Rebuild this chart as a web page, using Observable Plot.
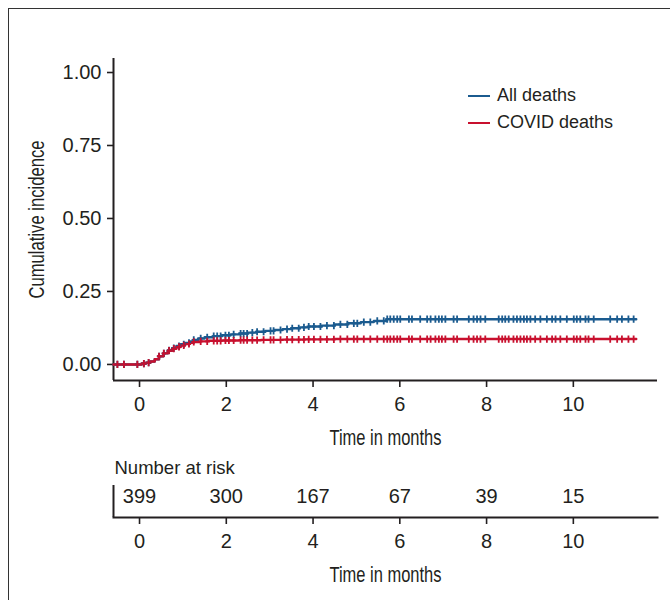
<!DOCTYPE html>
<html>
<head>
<meta charset="utf-8">
<script src="https://cdn.jsdelivr.net/npm/d3@7"></script>
<script src="https://cdn.jsdelivr.net/npm/@observablehq/plot@0.6"></script>
<style>
  body { margin: 0; background: #fff; font-family: "Liberation Sans", Arial, sans-serif; color: #231f20; }
  #frame { position: absolute; left: 8px; top: 8px; width: 720px; height: 720px; border-top: 1.5px solid #333; border-left: 1.5px solid #333; }
  #main { position: absolute; left: 0; top: 0; }
  #risk { position: absolute; left: 0; top: 450px; }
  #legend { position: absolute; left: 468px; top: 82px; font-size: 18px; line-height: 27px; }
  #legend .item { display: flex; align-items: center; }
  #legend .sw { display: inline-block; width: 22px; height: 0; border-top: 2px solid; margin-right: 7px; }
</style>
</head>
<body>
<div id="frame"></div>
<div id="main"></div>
<div id="legend"></div>
<div id="risk"></div>
<script>
// ---- Data ----
const seriesNames = ["All deaths", "COVID deaths"];
const seriesColors = ["#1b5b8f", "#c8102e"];

const allTimes = [-0.6, 0.05, 0.15, 0.25, 0.35, 0.45, 0.55, 0.65, 0.75, 0.85, 0.95, 1.05, 1.15, 1.25, 1.35, 1.5, 1.7, 1.9, 2.1, 2.3, 2.5, 2.7, 2.9, 3.1, 3.3, 3.5, 3.7, 3.9, 4.2, 4.5, 4.8, 5.1, 5.4, 5.7, 11.45];
const allVals  = [0, 0.003, 0.006, 0.010, 0.018, 0.028, 0.038, 0.048, 0.056, 0.063, 0.069, 0.074, 0.079, 0.084, 0.089, 0.093, 0.097, 0.100, 0.103, 0.106, 0.109, 0.112, 0.115, 0.118, 0.121, 0.124, 0.127, 0.130, 0.133, 0.137, 0.141, 0.145, 0.149, 0.155, 0.155];

const covidTimes = [-0.6, 0.05, 0.15, 0.25, 0.35, 0.45, 0.55, 0.65, 0.75, 0.85, 0.95, 1.05, 1.15, 1.25, 1.4, 1.6, 1.9, 2.3, 2.8, 3.3, 3.8, 4.5, 11.45];
const covidVals  = [0, 0.003, 0.006, 0.010, 0.018, 0.028, 0.038, 0.047, 0.054, 0.060, 0.065, 0.070, 0.074, 0.077, 0.079, 0.081, 0.082, 0.083, 0.084, 0.085, 0.086, 0.087, 0.087];

const censorTimes = [-0.51, -0.36, -0.05, 0.10, 0.21, 0.45, 0.56, 0.68, 0.79, 0.91, 1.02, 1.14, 1.25, 1.41, 1.56, 1.71, 1.79, 1.87, 1.98, 2.06, 2.17, 2.33, 2.40, 2.48, 2.60, 2.71, 2.86, 3.02, 3.09, 3.25, 3.40, 3.52, 3.67, 3.79, 3.90, 4.02, 4.17, 4.32, 4.48, 4.63, 4.79, 4.94, 5.02, 5.17, 5.32, 5.48, 5.63, 5.71, 5.78, 5.86, 5.94, 6.01, 6.21, 6.28, 6.47, 6.63, 6.71, 6.82, 6.90, 6.97, 7.05, 7.24, 7.32, 7.59, 7.70, 7.78, 7.86, 7.97, 8.28, 8.36, 8.43, 8.51, 8.62, 8.70, 8.78, 8.86, 8.93, 9.01, 9.12, 9.24, 9.39, 9.51, 9.59, 9.70, 9.85, 10.01, 10.08, 10.16, 10.28, 10.35, 10.47, 10.85, 11.01, 11.12, 11.27, 11.39];

const yTicks = [0, 0.25, 0.5, 0.75, 1];
const xTicks = [0, 2, 4, 6, 8, 10];
const riskTimes = [0, 2, 4, 6, 8, 10];
const riskCounts = [399, 300, 167, 67, 39, 15];

// ---- Build tables ----
const curves = [];
allTimes.forEach((t, i) => curves.push({series: seriesNames[0], t, v: allVals[i]}));
covidTimes.forEach((t, i) => curves.push({series: seriesNames[1], t, v: covidVals[i]}));

function stepValue(times, vals, t) {
  let v = vals[0];
  for (let i = 0; i < times.length; i++) { if (times[i] <= t) v = vals[i]; else break; }
  return v;
}
const censors = [];
censorTimes.forEach(t => {
  censors.push({series: seriesNames[0], t, v: stepValue(allTimes, allVals, t)});
  censors.push({series: seriesNames[1], t, v: stepValue(covidTimes, covidVals, t)});
});
const risk = riskTimes.map((t, i) => ({t, n: riskCounts[i]}));

const xDomain = [-0.6, 11.94];
const condensed = "'Liberation Sans', Arial, sans-serif";
const ink = "#231f20";
const colorScale = {domain: seriesNames, range: seriesColors};
const fs = 18.5;   // general text
const tfs = 20;    // tick labels and numbers
const cfs = 22;    // condensed axis titles

// vertical censor tick symbol
const vtick = {draw(context, size) { const r = Math.sqrt(size / Math.PI); context.moveTo(0, -r); context.lineTo(0, r); context.moveTo(-r * 0.6, 0); context.lineTo(r * 0.6, 0); }};

function condense(svg, label, len) {
  svg.querySelectorAll("text").forEach(t => {
    if (t.textContent === label) { t.setAttribute("textLength", len); t.setAttribute("lengthAdjust", "spacingAndGlyphs"); }
  });
}

// ---- Main chart ----
const main = Plot.plot({
  width: 670, height: 450,
  marginLeft: 113, marginRight: 13, marginTop: 58, marginBottom: 70,
  style: {fontFamily: "'Liberation Sans', Arial, sans-serif", fontSize: fs + "px", color: ink, background: "transparent", overflow: "visible"},
  x: {domain: xDomain},
  y: {domain: [-0.055, 1.048]},
  color: colorScale,
  marks: [
    Plot.axisY({ticks: yTicks, tickFormat: d3.format(".2f"), tickSize: 6, tickPadding: 6, strokeWidth: 1.6, label: null, fontSize: tfs}),
    Plot.axisX({ticks: xTicks, tickSize: 7, tickPadding: 9, strokeWidth: 1.6, label: null, fontSize: tfs}),
    Plot.ruleX([xDomain[0]], {stroke: ink, strokeWidth: 2}),
    Plot.ruleY([-0.055], {stroke: ink, strokeWidth: 2}),
    Plot.line(curves, {x: "t", y: "v", z: "series", stroke: "series", curve: "step-after", strokeWidth: 2.4}),
    Plot.dot(censors, {x: "t", y: "v", stroke: "series", symbol: vtick, r: 3.6, strokeWidth: 1.8}),
    Plot.text(["Time in months"], {frameAnchor: "bottom", dy: 57, lineAnchor: "middle", fontFamily: condensed, fontSize: cfs, fill: ink}),
    Plot.text(["Cumulative incidence"], {frameAnchor: "left", dx: -77, rotate: -90, textAnchor: "middle", lineAnchor: "middle", fontFamily: condensed, fontSize: cfs, fill: ink})
  ]
});
condense(main, "Time in months", 112);
condense(main, "Cumulative incidence", 158);
document.getElementById("main").append(main);

// ---- Legend ----
const legend = document.getElementById("legend");
seriesNames.forEach((name, i) => {
  const item = document.createElement("div");
  item.className = "item";
  const sw = document.createElement("span");
  sw.className = "sw";
  sw.style.borderTopColor = seriesColors[i];
  const label = document.createElement("span");
  label.textContent = name;
  item.append(sw, label);
  legend.append(item);
});

// ---- Risk table ----
const riskPlot = Plot.plot({
  width: 670, height: 150,
  marginLeft: 113, marginRight: 13, marginTop: 35, marginBottom: 83,
  style: {fontFamily: "'Liberation Sans', Arial, sans-serif", fontSize: fs + "px", color: ink, background: "transparent", overflow: "visible"},
  x: {domain: xDomain},
  marks: [
    Plot.axisX({ticks: xTicks, tickSize: 7, tickPadding: 9, strokeWidth: 1.6, label: null, fontSize: tfs}),
    Plot.ruleX([xDomain[0]], {stroke: ink, strokeWidth: 2}),
    Plot.frame({anchor: "bottom", stroke: ink, strokeWidth: 2}),
    Plot.text(risk, {x: "t", text: d => String(d.n), frameAnchor: "middle", dy: -5, fontSize: tfs, fill: ink}),
    Plot.text(["Number at risk"], {frameAnchor: "top-left", dx: 1, dy: -17, textAnchor: "start", lineAnchor: "middle", fontSize: fs, fill: ink}),
    Plot.text(["Time in months"], {frameAnchor: "bottom", dy: 57, lineAnchor: "middle", fontFamily: condensed, fontSize: cfs, fill: ink})
  ]
});
condense(riskPlot, "Time in months", 112);
document.getElementById("risk").append(riskPlot);
</script>
</body>
</html>
